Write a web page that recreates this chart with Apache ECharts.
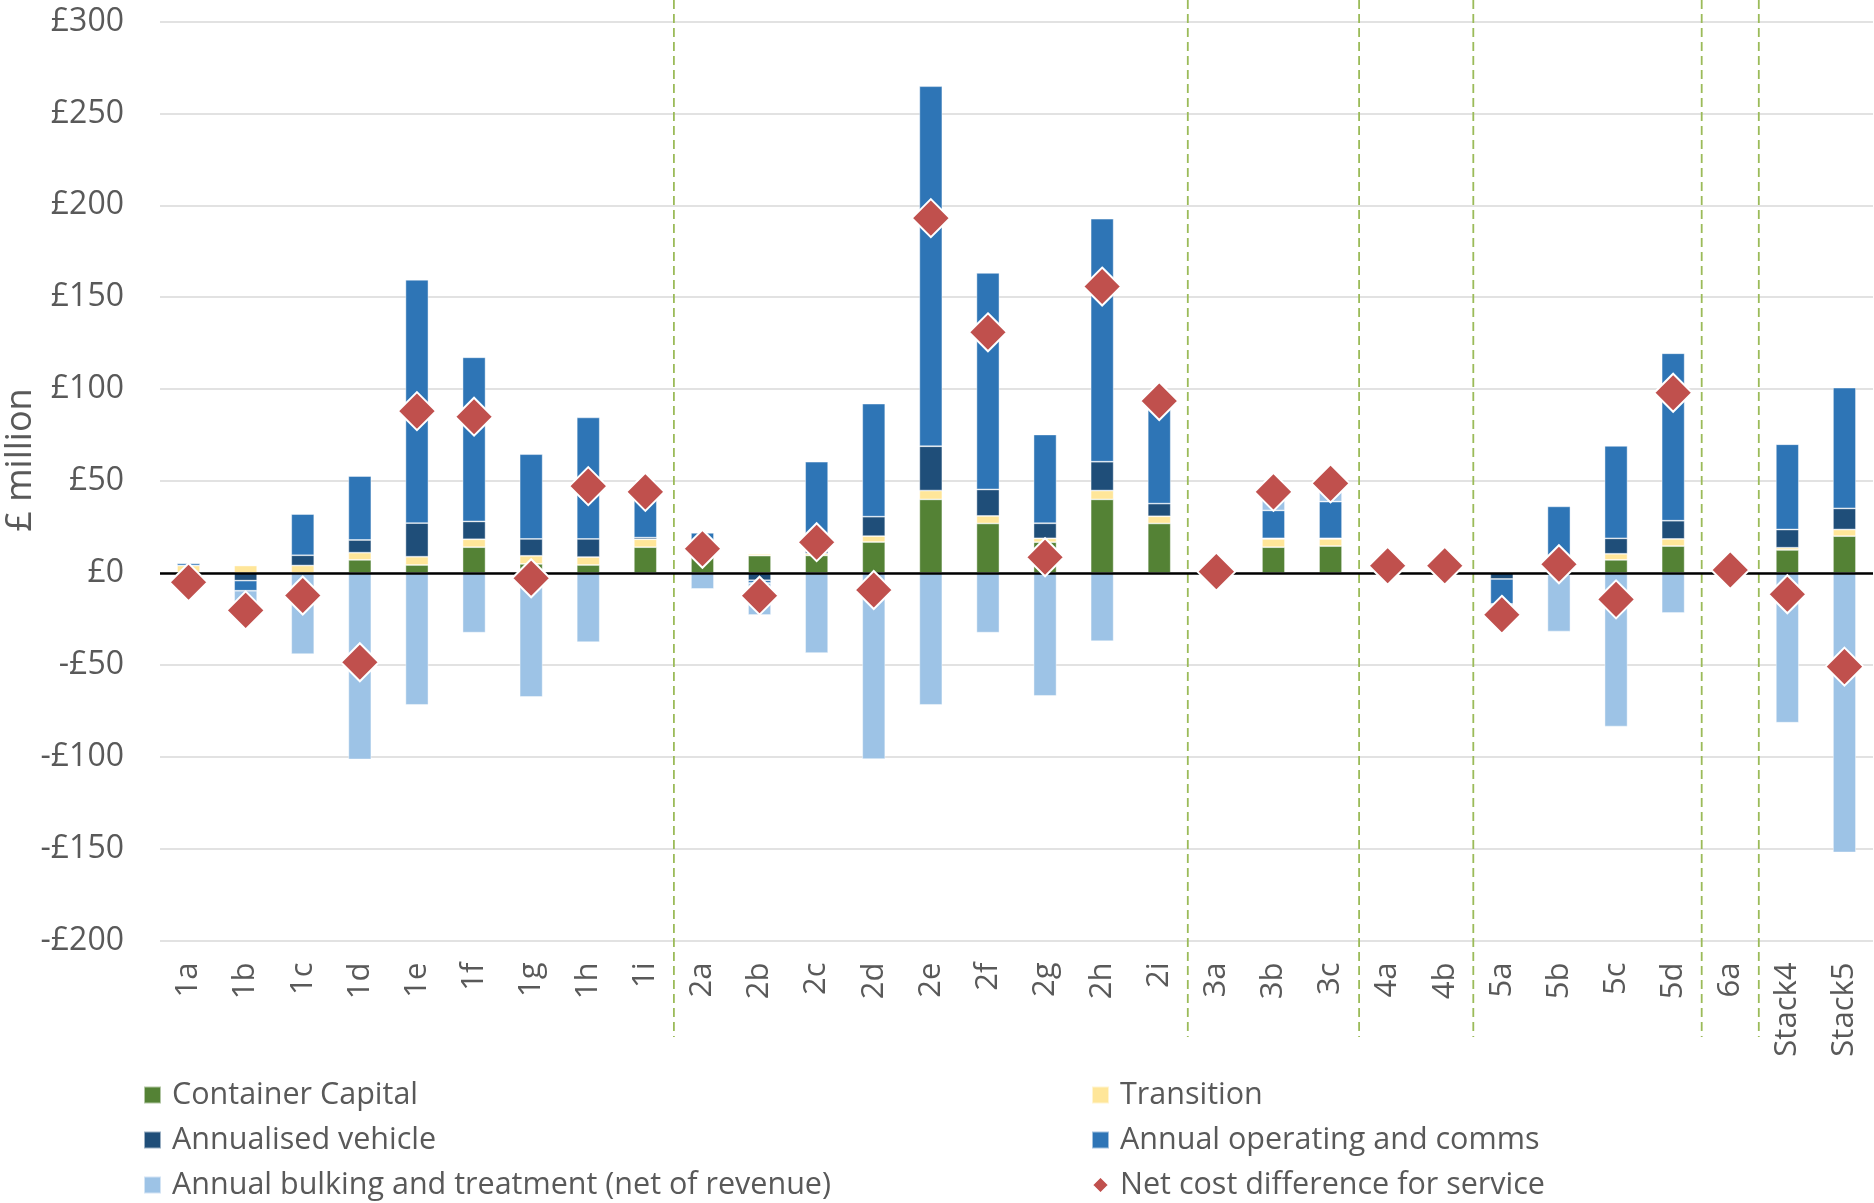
<!DOCTYPE html>
<html>
<head>
<meta charset="utf-8">
<script src="https://cdn.jsdelivr.net/npm/echarts@6/dist/echarts.min.js"></script>
<style>
  html, body { margin: 0; padding: 0; background: #fff; }
  #chart { width: 1874px; height: 1203px; }
</style>
</head>
<body>
<div id="chart"></div>
<script>
// Service options, grouped by scheme family
const categories = ['1a','1b','1c','1d','1e','1f','1g','1h','1i',
                    '2a','2b','2c','2d','2e','2f','2g','2h','2i',
                    '3a','3b','3c','4a','4b','5a','5b','5c','5d','6a','Stack4','Stack5'];

// Last option of each family; a dashed divider follows each of these
const groupEnds = ['1i','2i','3c','4b','5d','6a'];

// Cost components, £ million per year
const containerCapital  = [0, 0, 0, 7.1, 4.3, 14.0, 4.9, 4.3, 14.0,
                           10.0, 9.4, 9.5, 16.8, 40.0, 26.9, 16.7, 40.0, 26.9,
                           0, 14.0, 14.6, 0, 0, 0, 0, 7.1, 14.6, 2.0, 12.5, 20.0];
const transition        = [4.0, 4.0, 4.0, 3.9, 4.5, 4.3, 4.4, 4.3, 4.3,
                           1.2, 0.9, 1.0, 3.2, 4.8, 4.1, 2.1, 4.8, 3.9,
                           0, 4.5, 3.9, 0, 0, 0, 0, 3.3, 3.9, 1.0, 1.2, 3.6];
const annualisedVehicle = [0, -4.2, 5.6, 6.9, 18.3, 9.7, 9.2, 9.9, 0.9,
                           1.5, -4.0, 2.5, 10.6, 24.1, 14.4, 8.2, 15.7, 6.9,
                           0, 0.3, 0.3, 0, 0, -3.3, 0, 8.4, 9.9, 0, 9.9, 11.5];
const annualOperating   = [1.2, -5.5, 22.4, 34.8, 132.4, 89.3, 46.1, 66.1, 24.8,
                           9.1, -1.5, 47.5, 61.5, 195.9, 117.8, 48.3, 132.2, 55.8,
                           0, 15.2, 20.0, 0, 0, -13.6, 36.2, 50.3, 91.1, 0.6, 46.4, 65.7];
const annualBulking     = [-8.5, -14.7, -44.2, -101.5, -71.8, -32.5, -67.5, -37.7, 0,
                           -8.7, -17.4, -43.6, -101.3, -71.8, -32.5, -66.9, -37.2, 0,
                           0, 10.1, 9.9, 0, 0, -5.9, -31.9, -83.6, -21.8, -2.0, -81.5, -152.1];
const netCost           = [-5.1, -20.4, -12.3, -48.6, 88.0, 85.0, -2.9, 47.2, 44.1,
                           13.1, -12.4, 16.7, -9.3, 193.0, 130.9, 8.5, 155.8, 93.5,
                           0.7, 44.1, 48.7, 3.9, 3.9, -22.8, 4.7, -14.4, 98.0, 1.6, -11.6, -51.0];

// Value axis range
const yMin = -200, yMax = 300, yStep = 50;

const FONT = '"Open Sans", "Noto Sans", sans-serif';
const TEXT = '#595959';

const chart = echarts.init(document.getElementById('chart'), null, { renderer: 'canvas' });

function barSeries(name, data, color, extra) {
  return Object.assign({
    name: name,
    type: 'bar',
    stack: 'cost',
    data: data,
    barWidth: 23,
    itemStyle: { color: color, borderColor: 'rgba(255,255,255,0.55)', borderWidth: 0.8 },
    emphasis: { disabled: true }
  }, extra || {});
}

const legendText = {
  color: TEXT, fontFamily: FONT, fontSize: 30.5, lineHeight: 34, padding: [0, 0, 0, 6]
};

function legendBlock(left, names) {
  return {
    orient: 'vertical', left: left, top: 1078, padding: 0, height: 130,
    itemWidth: 17, itemHeight: 17, itemGap: 11,
    textStyle: legendText,
    data: names
  };
}

chart.setOption({
  animation: false,
  backgroundColor: '#fff',
  grid: { left: 160, right: 1, top: 21.5, bottom: 262.5, containLabel: false },
  xAxis: {
    type: 'category',
    data: categories,
    axisLine: { show: false },
    axisTick: { show: false },
    axisLabel: { rotate: 90, margin: 22, color: TEXT, fontFamily: FONT, fontSize: 31, interval: 0 }
  },
  yAxis: {
    type: 'value',
    min: yMin, max: yMax, interval: yStep,
    axisLine: { show: false },
    axisTick: { show: false },
    splitLine: { lineStyle: { color: '#D9D9D9', width: 1.5 } },
    axisLabel: {
      margin: 36, color: TEXT, fontFamily: FONT, fontSize: 32,
      formatter: v => (v < 0 ? '-£' + Math.abs(v) : '£' + v)
    }
  },
  legend: [
    legendBlock(143, [
      { name: 'Container Capital', icon: 'rect' },
      { name: 'Annualised vehicle', icon: 'rect' },
      { name: 'Annual bulking and treatment (net of revenue)', icon: 'rect' }
    ]),
    legendBlock(1091, [
      { name: 'Transition', icon: 'rect' },
      { name: 'Annual operating and comms', icon: 'rect' },
      { name: 'Net cost difference for service', icon: 'diamond' }
    ])
  ],
  series: [
    barSeries('Container Capital', containerCapital, '#548235'),
    barSeries('Transition', transition, '#FFE699'),
    barSeries('Annualised vehicle', annualisedVehicle, '#1F4E79'),
    barSeries('Annual operating and comms', annualOperating, '#2E75B6'),
    barSeries('Annual bulking and treatment (net of revenue)', annualBulking, '#9DC3E6', {
      markLine: {
        silent: true,
        symbol: 'none',
        z: 5,
        label: { show: false },
        lineStyle: { color: '#000', width: 2.6, type: 'solid' },
        data: [{ yAxis: 0 }]
      }
    }),
    {
      name: 'Net cost difference for service',
      type: 'scatter',
      data: netCost,
      symbol: 'diamond',
      symbolSize: 38,
      z: 6,
      itemStyle: { color: '#C0504D', borderColor: '#fff', borderWidth: 2, opacity: 1 },
      emphasis: { disabled: true }
    }
  ]
});

// Dashed dividers between option families, placed midway between neighbouring categories
function drawDividers() {
  const elements = groupEnds.map((cat, k) => {
    const i = categories.indexOf(cat);
    const x0 = chart.convertToPixel({ xAxisIndex: 0 }, categories[i]);
    const x1 = chart.convertToPixel({ xAxisIndex: 0 }, categories[i + 1]);
    const x = (x0 + x1) / 2;
    return {
      type: 'line', id: 'divider' + k, silent: true, z: 1,
      shape: { x1: x, y1: 0, x2: x, y2: 1037 },
      style: { stroke: '#9BBB59', lineWidth: 1.8, lineDash: [9, 5] }
    };
  });
  elements.push({
    type: 'text', id: 'ytitle', silent: true,
    x: 21, y: 460, rotation: Math.PI / 2,
    style: {
      text: '£ million', fill: TEXT, font: '36px ' + FONT,
      align: 'center', verticalAlign: 'middle'
    }
  });
  chart.setOption({ graphic: elements });
}
drawDividers();
</script>
</body>
</html>
